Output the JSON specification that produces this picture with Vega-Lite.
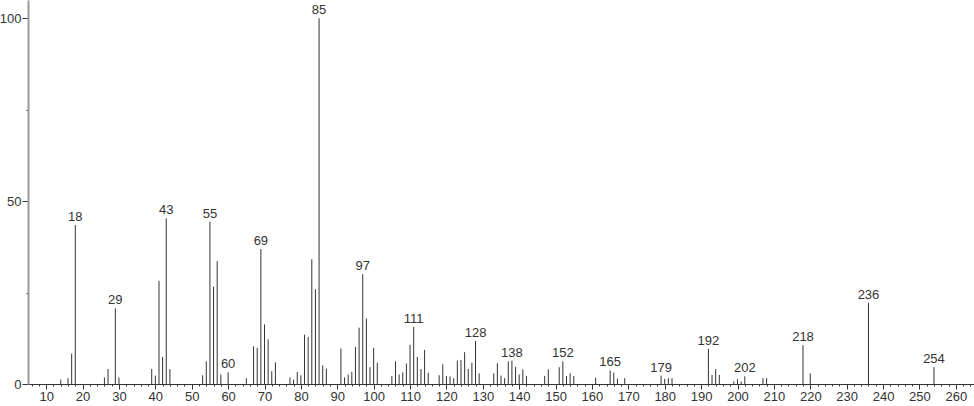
{
  "$schema": "https://vega.github.io/schema/vega-lite/v6.json",
  "width": 946,
  "height": 384,
  "autosize": {"type": "none"},
  "padding": {"left": 28, "top": 0, "right": 0, "bottom": 22},
  "background": "white",
  "config": {
    "view": {"stroke": null},
    "axis": {"labelFont": "Liberation Sans", "labelFontSize": 13, "labelColor": "#333", "grid": false, "title": null, "labelOverlap": false}
  },
  "data": {"values": [
    {"mz": 14, "intensity": 1.2}, {"mz": 16, "intensity": 1.6}, {"mz": 17, "intensity": 8.3}, {"mz": 18, "intensity": 43.5, "label": "18"},
    {"mz": 26, "intensity": 1.8}, {"mz": 27, "intensity": 4.1}, {"mz": 29, "intensity": 20.7, "label": "29"}, {"mz": 30, "intensity": 1.8},
    {"mz": 39, "intensity": 4.1}, {"mz": 40, "intensity": 2.3}, {"mz": 41, "intensity": 28.2}, {"mz": 42, "intensity": 7.4}, {"mz": 43, "intensity": 45.3, "label": "43"}, {"mz": 44, "intensity": 4.1},
    {"mz": 53, "intensity": 2.4}, {"mz": 54, "intensity": 6.2}, {"mz": 55, "intensity": 44.4, "label": "55"}, {"mz": 56, "intensity": 26.6}, {"mz": 57, "intensity": 33.6}, {"mz": 58, "intensity": 2.6}, {"mz": 60, "intensity": 3.2, "label": "60"},
    {"mz": 65, "intensity": 1.6}, {"mz": 67, "intensity": 10.3}, {"mz": 68, "intensity": 9.9}, {"mz": 69, "intensity": 36.9, "label": "69"}, {"mz": 70, "intensity": 16.3}, {"mz": 71, "intensity": 12.2}, {"mz": 72, "intensity": 3.5}, {"mz": 73, "intensity": 5.9},
    {"mz": 77, "intensity": 1.8}, {"mz": 78, "intensity": 1.2}, {"mz": 79, "intensity": 3.3}, {"mz": 80, "intensity": 2.4}, {"mz": 81, "intensity": 13.5}, {"mz": 82, "intensity": 12.9}, {"mz": 83, "intensity": 34.1}, {"mz": 84, "intensity": 25.9}, {"mz": 85, "intensity": 100, "label": "85"}, {"mz": 86, "intensity": 5.1}, {"mz": 87, "intensity": 4.2},
    {"mz": 91, "intensity": 9.7}, {"mz": 92, "intensity": 1.8}, {"mz": 93, "intensity": 2.6}, {"mz": 94, "intensity": 3.3}, {"mz": 95, "intensity": 10.1}, {"mz": 96, "intensity": 15.4}, {"mz": 97, "intensity": 30, "label": "97"}, {"mz": 98, "intensity": 17.9}, {"mz": 99, "intensity": 4.6}, {"mz": 100, "intensity": 9.9}, {"mz": 101, "intensity": 5.8},
    {"mz": 105, "intensity": 2.2}, {"mz": 106, "intensity": 6.2}, {"mz": 107, "intensity": 2.6}, {"mz": 108, "intensity": 3.2}, {"mz": 109, "intensity": 5.6}, {"mz": 110, "intensity": 10.7}, {"mz": 111, "intensity": 15.6, "label": "111"}, {"mz": 112, "intensity": 7.4}, {"mz": 113, "intensity": 4.1}, {"mz": 114, "intensity": 9.3}, {"mz": 115, "intensity": 3.1},
    {"mz": 118, "intensity": 2.4}, {"mz": 119, "intensity": 5.4}, {"mz": 120, "intensity": 2.2}, {"mz": 121, "intensity": 2.1}, {"mz": 122, "intensity": 1.6}, {"mz": 123, "intensity": 6.4}, {"mz": 124, "intensity": 6.6}, {"mz": 125, "intensity": 8.7}, {"mz": 126, "intensity": 4.1}, {"mz": 127, "intensity": 5.8}, {"mz": 128, "intensity": 11.8, "label": "128"}, {"mz": 129, "intensity": 2.9},
    {"mz": 133, "intensity": 2.9}, {"mz": 134, "intensity": 5.7}, {"mz": 135, "intensity": 2.3}, {"mz": 136, "intensity": 1.6}, {"mz": 137, "intensity": 6.2}, {"mz": 138, "intensity": 6.4, "label": "138"}, {"mz": 139, "intensity": 4.7}, {"mz": 140, "intensity": 2.6}, {"mz": 141, "intensity": 4.0}, {"mz": 142, "intensity": 2.2},
    {"mz": 147, "intensity": 2.2}, {"mz": 148, "intensity": 4.0}, {"mz": 151, "intensity": 4.6}, {"mz": 152, "intensity": 6.2, "label": "152"}, {"mz": 153, "intensity": 2.2}, {"mz": 154, "intensity": 2.9}, {"mz": 155, "intensity": 2.2},
    {"mz": 161, "intensity": 1.7}, {"mz": 165, "intensity": 3.7, "label": "165"}, {"mz": 166, "intensity": 3.1}, {"mz": 167, "intensity": 1.5}, {"mz": 169, "intensity": 1.6},
    {"mz": 179, "intensity": 2.3, "label": "179"}, {"mz": 180, "intensity": 1.4}, {"mz": 181, "intensity": 1.6}, {"mz": 182, "intensity": 1.6},
    {"mz": 192, "intensity": 9.6, "label": "192"}, {"mz": 193, "intensity": 2.5}, {"mz": 194, "intensity": 4.1}, {"mz": 195, "intensity": 2.5},
    {"mz": 199, "intensity": 0.7}, {"mz": 200, "intensity": 1.3}, {"mz": 201, "intensity": 0.7}, {"mz": 202, "intensity": 2.1, "label": "202"}, {"mz": 207, "intensity": 1.6}, {"mz": 208, "intensity": 1.6},
    {"mz": 218, "intensity": 10.6, "label": "218"}, {"mz": 220, "intensity": 2.9}, {"mz": 236, "intensity": 22.2, "label": "236"}, {"mz": 254, "intensity": 4.6, "label": "254"}
  ]},
  "encoding": {
    "x": {
      "field": "mz", "type": "quantitative",
      "scale": {"domain": [5, 265], "nice": false, "zero": false},
      "axis": {
        "values": [6,8,10,12,14,16,18,20,22,24,26,28,30,32,34,36,38,40,42,44,46,48,50,52,54,56,58,60,62,64,66,68,70,72,74,76,78,80,82,84,86,88,90,92,94,96,98,100,102,104,106,108,110,112,114,116,118,120,122,124,126,128,130,132,134,136,138,140,142,144,146,148,150,152,154,156,158,160,162,164,166,168,170,172,174,176,178,180,182,184,186,188,190,192,194,196,198,200,202,204,206,208,210,212,214,216,218,220,222,224,226,228,230,232,234,236,238,240,242,244,246,248,250,252,254,256,258,260,262,264],
        "labelExpr": "datum.value % 10 === 0 ? datum.label : ''",
        "tickSize": {"condition": {"test": "datum.value % 10 === 0", "value": 5}, "value": 2},
        "tickColor": "#333",
        "domainColor": "#333",
        "domainWidth": 1,
        "labelPadding": 1,
        "labelOverlap": false,
        "labelFlush": false,
        "labelBound": false
      }
    },
    "y": {
      "field": "intensity", "type": "quantitative",
      "scale": {"domain": [0, 105], "nice": false},
      "axis": {
        "values": [0, 25, 50, 75, 100],
        "labelExpr": "datum.value % 50 === 0 ? datum.label : ''",
        "tickSize": {"condition": {"test": "datum.value % 50 === 0", "value": 6}, "value": 2},
        "tickColor": "#333",
        "domainColor": "#999",
        "domainWidth": 2,
        "labelPadding": 1,
        "labelOverlap": false,
        "labelFlush": false,
        "labelBound": false
      }
    }
  },
  "layer": [
    {
      "mark": {"type": "rule", "color": "#333", "strokeWidth": 1},
      "encoding": {"y2": {"datum": 0}}
    },
    {
      "transform": [{"filter": "isValid(datum.label)"}],
      "mark": {"type": "text", "font": "Liberation Sans", "fontSize": 13, "color": "#333", "baseline": "alphabetic", "dy": -4},
      "encoding": {"text": {"field": "label"}}
    }
  ]
}
